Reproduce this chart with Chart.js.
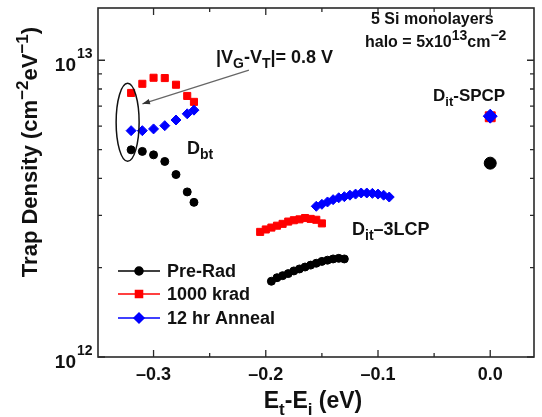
<!DOCTYPE html>
<html>
<head>
<meta charset="utf-8">
<script src="https://cdn.jsdelivr.net/npm/chart.js@4.4.1/dist/chart.umd.min.js"></script>
<style>
html, body { margin: 0; padding: 0; background: #fff; }
canvas { display: block; }
</style>
</head>
<body>
<canvas id="mycanvas" width="542" height="417"></canvas>
<script>
// D_bt cluster (left)
var dbtE = [-0.32, -0.31, -0.30, -0.29, -0.28, -0.27, -0.264];
var dbtPreRad = [4.99e12, 4.93e12, 4.80e12, 4.56e12, 4.12e12, 3.60e12, 3.32e12];
var dbtRad = [7.76e12, 8.33e12, 8.73e12, 8.71e12, 8.27e12, 7.58e12, 7.24e12];
var dbtAnneal = [5.79e12, 5.79e12, 5.87e12, 6.02e12, 6.29e12, 6.60e12, 6.79e12];

// D_it 3LCP (middle)
var lcpPreRadE = [-0.195, -0.19, -0.185, -0.18, -0.175, -0.17, -0.165, -0.16, -0.155, -0.15, -0.145, -0.14, -0.135, -0.13];
var lcpPreRad = [1.80e12, 1.85e12, 1.88e12, 1.91e12, 1.95e12, 1.98e12, 2.01e12, 2.04e12, 2.07e12, 2.10e12, 2.12e12, 2.14e12, 2.15e12, 2.14e12];
var lcpRadE = [-0.205, -0.20, -0.195, -0.19, -0.185, -0.18, -0.175, -0.17, -0.165, -0.16, -0.155, -0.15];
var lcpRad = [2.64e12, 2.69e12, 2.73e12, 2.77e12, 2.81e12, 2.86e12, 2.89e12, 2.91e12, 2.94e12, 2.92e12, 2.90e12, 2.82e12];
var lcpAnnealE = [-0.155, -0.15, -0.145, -0.14, -0.135, -0.13, -0.125, -0.12, -0.115, -0.11, -0.105, -0.10, -0.095, -0.09];
var lcpAnneal = [3.22e12, 3.27e12, 3.33e12, 3.39e12, 3.44e12, 3.47e12, 3.51e12, 3.54e12, 3.57e12, 3.57e12, 3.56e12, 3.54e12, 3.51e12, 3.46e12];

// D_it SPCP (right)
var spcpE = [0.0];
var spcpPreRad = [4.50e12];
var spcpRad = [6.45e12];
var spcpAnneal = [6.48e12];

var seriesNames = ["Pre-Rad", "1000 krad", "12 hr Anneal"];
var seriesColors = ["#000000", "#ff0000", "#0000ff"];
var seriesStyles = ["circle", "rect", "rectRot"];

var xMajor = [-0.3, -0.2, -0.1, 0.0];
var xTickLabels = ["\u20130.3", "\u20130.2", "\u20130.1", "0.0"];
var xMinor = [-0.25, -0.15, -0.05];
var yMajor = [1e12, 1e13];
var yTickExp = ["12", "13"];
var yMinor = [2e12, 3e12, 4e12, 5e12, 6e12, 7e12, 8e12, 9e12];

var FONT = "'Liberation Sans', Arial, Helvetica, sans-serif";

function pts(xs, ys) {
	var out = [];
	for (var i in xs) {
		out.push({x: xs[i], y: ys[i]});
	}
	return out;
}

// draws text with sub/superscript parts: [text, "n"|"sup"|"sub"]
function rich(ctx, x, y, parts, size, align, ratio) {
	ratio = ratio || 0.75;
	var w = 0;
	var i, p, fs;
	for (i = 0; i < parts.length; i++) {
		p = parts[i];
		fs = p[1] == "n" ? size : Math.round(size * ratio);
		ctx.font = "bold " + fs + "px " + FONT;
		w += ctx.measureText(p[0]).width;
	}
	var cx = x;
	if (align == "center") cx = x - w / 2;
	ctx.textAlign = "left";
	ctx.textBaseline = "alphabetic";
	for (i = 0; i < parts.length; i++) {
		p = parts[i];
		fs = p[1] == "n" ? size : Math.round(size * ratio);
		ctx.font = "bold " + fs + "px " + FONT;
		var dy = 0;
		if (p[1] == "sup") dy = -size * 0.42;
		if (p[1] == "sub") dy = size * 0.3;
		ctx.fillText(p[0], cx, y + dy);
		cx += ctx.measureText(p[0]).width;
	}
	return w;
}

var decor = {
	id: "decor",
	afterDraw: function(chart) {
		var ctx = chart.ctx;
		var a = chart.chartArea;
		var xs = chart.scales.x;
		var ys = chart.scales.y;
		var i, px, py;
		ctx.save();

		// frame
		ctx.strokeStyle = "#2a2a2a";
		ctx.lineWidth = 1.6;
		ctx.strokeRect(a.left, a.top, a.right - a.left, a.bottom - a.top);

		// inward ticks on all four sides
		ctx.lineWidth = 1.3;
		ctx.beginPath();
		for (i = 0; i < xMajor.length; i++) {
			px = xs.getPixelForValue(xMajor[i]);
			ctx.moveTo(px, a.bottom); ctx.lineTo(px, a.bottom - 7);
			ctx.moveTo(px, a.top); ctx.lineTo(px, a.top + 7);
		}
		for (i = 0; i < xMinor.length; i++) {
			px = xs.getPixelForValue(xMinor[i]);
			ctx.moveTo(px, a.bottom); ctx.lineTo(px, a.bottom - 4);
			ctx.moveTo(px, a.top); ctx.lineTo(px, a.top + 4);
		}
		for (i = 0; i < yMajor.length; i++) {
			py = ys.getPixelForValue(yMajor[i]);
			ctx.moveTo(a.left, py); ctx.lineTo(a.left + 7, py);
			ctx.moveTo(a.right, py); ctx.lineTo(a.right - 7, py);
		}
		for (i = 0; i < yMinor.length; i++) {
			py = ys.getPixelForValue(yMinor[i]);
			ctx.moveTo(a.left, py); ctx.lineTo(a.left + 4, py);
			ctx.moveTo(a.right, py); ctx.lineTo(a.right - 4, py);
		}
		ctx.stroke();

		ctx.fillStyle = "#111";
		// x tick labels
		ctx.font = "bold 18px " + FONT;
		ctx.textAlign = "center";
		ctx.textBaseline = "alphabetic";
		for (i = 0; i < xMajor.length; i++) {
			ctx.fillText(xTickLabels[i], xs.getPixelForValue(xMajor[i]), a.bottom + 23);
		}
		// y tick labels 10^n
		for (i = 0; i < yMajor.length; i++) {
			py = ys.getPixelForValue(yMajor[i]);
			ctx.font = "bold 19px " + FONT;
			ctx.textAlign = "right";
			ctx.fillText("10", 76, py + 11);
			ctx.font = "bold 14px " + FONT;
			ctx.textAlign = "left";
			ctx.fillText(yTickExp[i], 77, py - 2);
		}

		// axis titles
		rich(ctx, (a.left + a.right) / 2 - 3, 408,
			[["E", "n"], ["t", "sub"], ["-E", "n"], ["i", "sub"], [" (eV)", "n"]], 23, "center");
		ctx.save();
		ctx.translate(37, 152);
		ctx.rotate(-Math.PI / 2);
		rich(ctx, 0, 0,
			[["Trap Density (cm", "n"], ["\u22122", "sup"], ["eV", "n"], ["\u22121", "sup"], [")", "n"]], 22, "center");
		ctx.restore();

		// annotations
		rich(ctx, 371, 24, [["5 Si monolayers", "n"]], 16, "left");
		rich(ctx, 365, 47, [["halo = 5x10", "n"], ["13", "sup"], ["cm", "n"], ["\u22122", "sup"]], 16, "left", 0.88);
		rich(ctx, 216, 63, [["|V", "n"], ["G", "sub"], ["-V", "n"], ["T", "sub"], ["|= 0.8 V", "n"]], 18, "left");
		rich(ctx, 187, 154, [["D", "n"], ["bt", "sub"]], 18, "left");
		rich(ctx, 352, 235, [["D", "n"], ["it", "sub"], ["\u20133LCP", "n"]], 18, "left");
		rich(ctx, 433, 101, [["D", "n"], ["it", "sub"], ["-SPCP", "n"]], 17, "left");

		// ellipse around D_bt points
		var ex = xs.getPixelForValue(-0.3231);
		var ey = ys.getPixelForValue(6.18e12);
		ctx.strokeStyle = "#111";
		ctx.lineWidth = 1.5;
		ctx.beginPath();
		ctx.ellipse(ex, ey, 11.5, 39, 0, 0, Math.PI * 2);
		ctx.stroke();

		// arrow from label to ellipse
		var x1 = xs.getPixelForValue(-0.215), y1 = ys.getPixelForValue(9.26e12);
		var x2 = xs.getPixelForValue(-0.3099), y2 = ys.getPixelForValue(7.13e12);
		ctx.strokeStyle = "#666";
		ctx.lineWidth = 1.2;
		ctx.beginPath();
		ctx.moveTo(x1, y1); ctx.lineTo(x2, y2);
		ctx.stroke();
		var ang = Math.atan2(y2 - y1, x2 - x1);
		ctx.fillStyle = "#333";
		ctx.beginPath();
		ctx.moveTo(x2, y2);
		ctx.lineTo(x2 - 8 * Math.cos(ang - 0.35), y2 - 8 * Math.sin(ang - 0.35));
		ctx.lineTo(x2 - 8 * Math.cos(ang + 0.35), y2 - 8 * Math.sin(ang + 0.35));
		ctx.closePath();
		ctx.fill();

		// legend: line - marker - line
		var rows = [271, 294, 318];
		for (i = 0; i < seriesNames.length; i++) {
			ctx.strokeStyle = seriesColors[i];
			ctx.fillStyle = seriesColors[i];
			ctx.lineWidth = 1.5;
			ctx.beginPath();
			ctx.moveTo(118, rows[i]); ctx.lineTo(160, rows[i]);
			ctx.stroke();
			Chart.helpers.drawPoint(ctx, {pointStyle: seriesStyles[i], radius: i == 0 ? 4 : 5, rotation: 0, borderWidth: 1}, 139, rows[i]);
			ctx.fillStyle = "#111";
			ctx.font = "bold 18px " + FONT;
			ctx.textAlign = "left";
			ctx.textBaseline = "middle";
			ctx.fillText(seriesNames[i], 167, rows[i] + 1);
		}
		ctx.restore();
	}
};

function radiusFor(small, big) {
	return function(c) {
		return (c.raw && c.raw.x === 0) ? big : small;
	};
}

var chartdata = {
	datasets: [
		{
			label: seriesNames[0],
			data: pts(dbtE, dbtPreRad).concat(pts(lcpPreRadE, lcpPreRad), pts(spcpE, spcpPreRad)),
			showLine: false,
			pointStyle: seriesStyles[0],
			pointRadius: radiusFor(4, 6),
			backgroundColor: seriesColors[0],
			borderColor: seriesColors[0],
			borderWidth: 1,
			order: 2
		},
		{
			label: seriesNames[1],
			data: pts(dbtE, dbtRad).concat(pts(lcpRadE, lcpRad), pts(spcpE, spcpRad)),
			showLine: false,
			pointStyle: seriesStyles[1],
			pointRadius: radiusFor(5, 7),
			backgroundColor: seriesColors[1],
			borderColor: seriesColors[1],
			borderWidth: 1,
			order: 1
		},
		{
			label: seriesNames[2],
			data: pts(dbtE, dbtAnneal).concat(pts(lcpAnnealE, lcpAnneal), pts(spcpE, spcpAnneal)),
			showLine: false,
			pointStyle: seriesStyles[2],
			pointRadius: radiusFor(5, 7),
			backgroundColor: seriesColors[2],
			borderColor: seriesColors[2],
			borderWidth: 1,
			order: 0
		}
	]
};

var ctx = document.getElementById("mycanvas");

var TrapChart = new Chart(ctx, {
	type: "scatter",
	data: chartdata,
	options: {
		responsive: false,
		animation: false,
		devicePixelRatio: 1,
		layout: { padding: { left: 98, right: 2, top: 5, bottom: 60 } },
		plugins: { legend: { display: false }, tooltip: { enabled: false } },
		scales: {
			x: { type: "linear", display: false, min: -0.3495, max: 0.039 },
			y: { type: "logarithmic", display: false, min: 1e12, max: 1.5e13 }
		}
	},
	plugins: [decor]
});
</script>
</body>
</html>
